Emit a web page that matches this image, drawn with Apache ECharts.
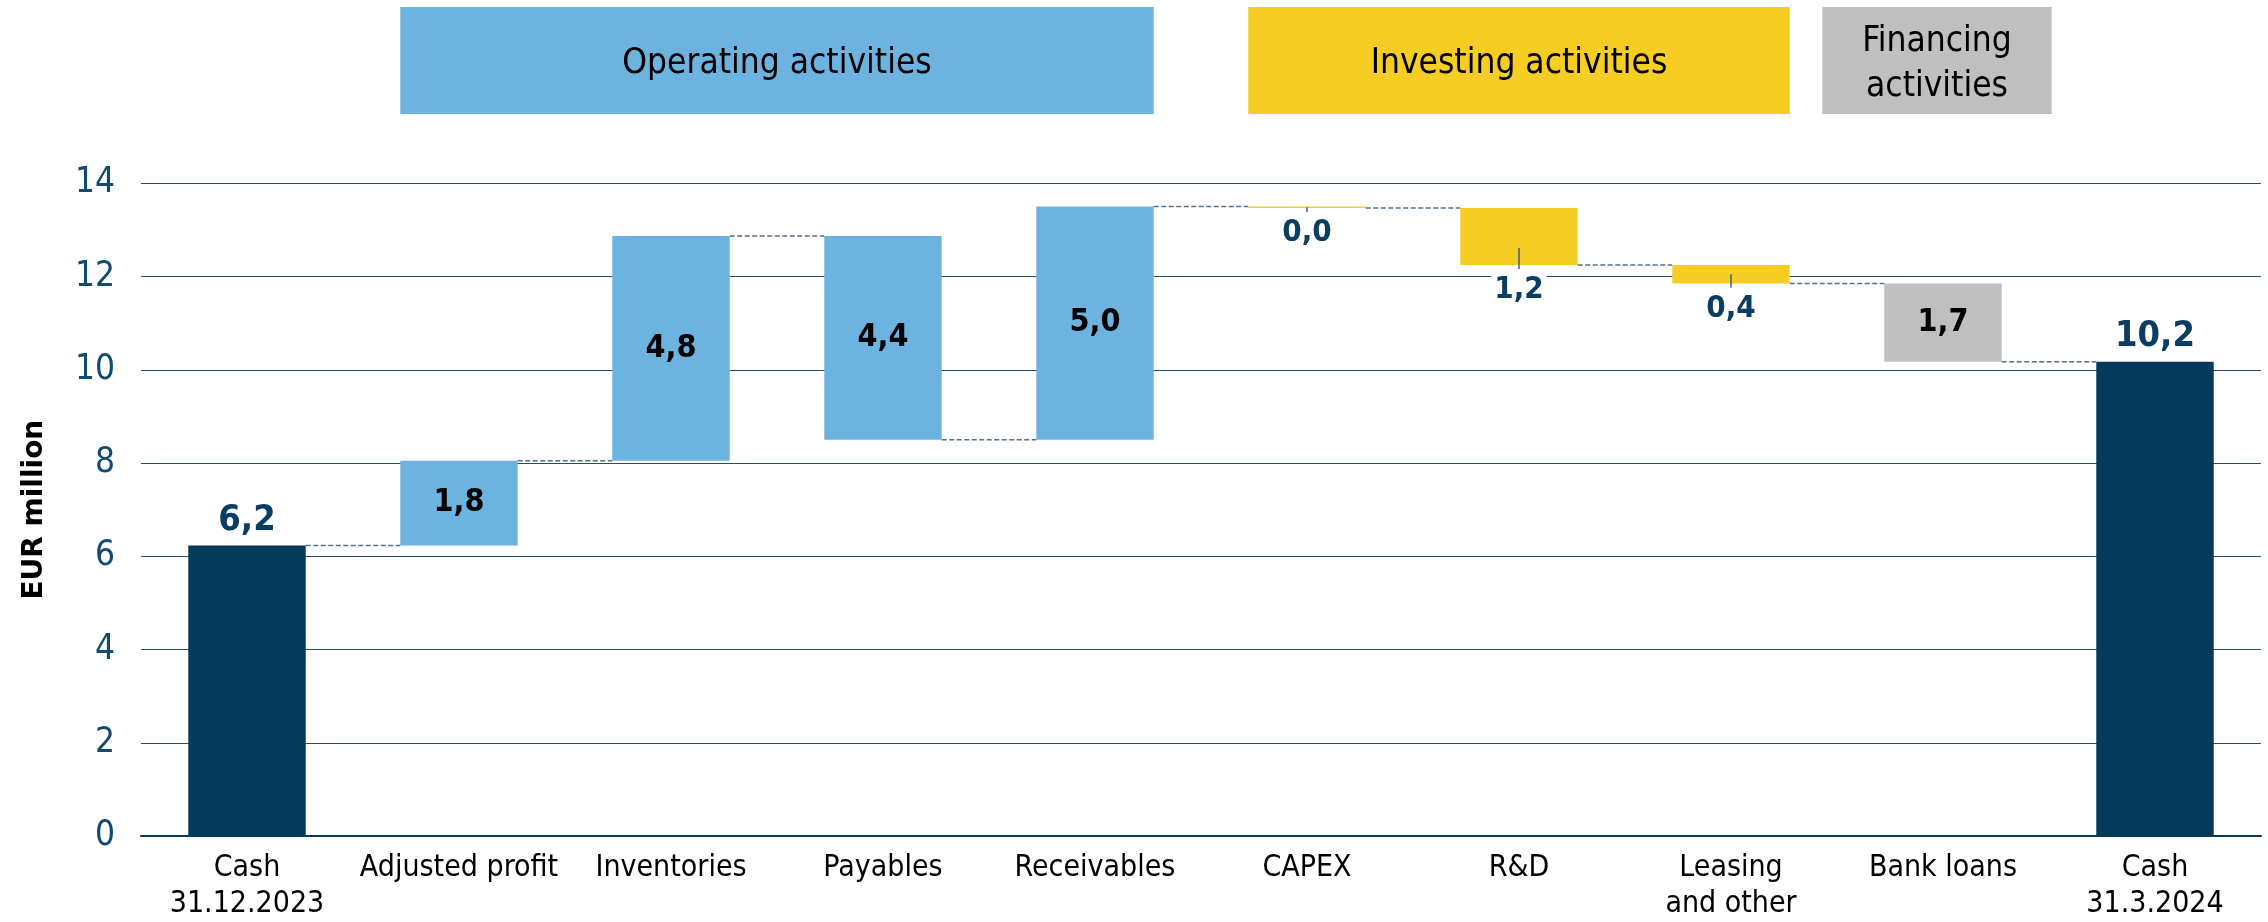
<!DOCTYPE html>
<html>
<head>
<meta charset="utf-8">
<title>Cash flow bridge</title>
<script src="https://cdn.jsdelivr.net/npm/echarts@6/dist/echarts.min.js"></script>
<style>
  html, body { margin: 0; padding: 0; background: #fff; }
  #chart-container { width: 2268px; height: 922px; }
</style>
</head>
<body>
<div id="chart-container"></div>
<script>
var dom = document.getElementById('chart-container');
var myChart = echarts.init(dom, null, { renderer: 'canvas' });

var FONT = "'DejaVu Sans Condensed', 'DejaVu Sans', sans-serif";

// data (EUR million)
var categories = ['Cash\n31.12.2023', 'Adjusted profit', 'Inventories', 'Payables', 'Receivables',
  'CAPEX', 'R&D', 'Leasing\nand other', 'Bank loans', 'Cash\n31.3.2024'];
var changes = [6.23, 1.82, 4.82, -4.37, 5.00, -0.03, -1.22, -0.40, -1.68, 10.17];
var kinds = ['total', 'operating', 'operating', 'operating', 'operating',
  'investing', 'investing', 'investing', 'financing', 'total'];

var groupNames = ['Operating activities', 'Investing activities', 'Financing\nactivities'];
var groupKinds = ['operating', 'investing', 'financing'];
var groupFirst = [1, 5, 8];
var groupLast = [4, 7, 8];

var colors = {
  total: '#043A5C',
  operating: '#6DB3E0',
  investing: '#F5CD23',
  financing: '#BFBFBF'
};

var labelStyles = {
  total: { show: true, position: 'top', distance: 5, color: '#0A3D62', fontSize: 36, fontWeight: 'bold', lineHeight: 40 },
  operating: { show: true, position: 'inside', color: '#000', fontSize: 32, fontWeight: 'bold' },
  investing: { show: true, position: 'bottom', distance: 8, color: '#0A3D62', fontSize: 31, fontWeight: 'bold',
    lineHeight: 34, backgroundColor: '#fff', padding: [0, 3] },
  financing: { show: true, position: 'inside', color: '#000', fontSize: 32, fontWeight: 'bold' }
};

var BAR_RATIO = 0.554;

// waterfall table: invisible base + visible amount
var bases = [];
var heights = [];
var levels = [];
var running = 0;
changes.forEach(function (v, i) {
  if (kinds[i] === 'total') {
    bases.push(0); heights.push(v); running = v;
  } else if (v >= 0) {
    bases.push(running); heights.push(v); running += v;
  } else {
    bases.push(running + v); heights.push(-v); running += v;
  }
  levels.push(running);
});

var connectorData = [];
for (var i = 0; i < categories.length - 1; i++) {
  connectorData.push([i, levels[i]]);
}

var leaderData = [];
kinds.forEach(function (k, i) {
  if (k === 'investing') leaderData.push([i, bases[i], bases[i] + heights[i]]);
});

var amountData = heights.map(function (h, i) {
  return {
    value: h,
    itemStyle: { color: colors[kinds[i]] },
    label: labelStyles[kinds[i]]
  };
});

var option = {
  animation: false,
  textStyle: { fontFamily: FONT },
  grid: { left: 141, right: 7, top: 183.3, bottom: 84.5 },
  xAxis: {
    type: 'category',
    data: categories,
    axisLine: { lineStyle: { color: '#0B3A5E', width: 2 } },
    axisTick: { show: false },
    axisLabel: { color: '#000', fontSize: 30, lineHeight: 36, margin: 14, interval: 0, fontFamily: FONT }
  },
  yAxis: {
    type: 'value',
    min: 0,
    max: 14,
    interval: 2,
    name: 'EUR million',
    nameLocation: 'middle',
    nameGap: 92,
    nameRotate: 90,
    nameTextStyle: { color: '#000', fontSize: 28, fontWeight: 'bold', fontFamily: 'DejaVu Sans' },
    axisLine: { show: false },
    axisTick: { show: false },
    axisLabel: { color: '#134A72', fontSize: 35, margin: 26, fontFamily: FONT },
    splitLine: { lineStyle: { color: '#234E72', width: 1 } }
  },
  series: [
    {
      name: 'base',
      type: 'bar',
      stack: 'wf',
      barWidth: (BAR_RATIO * 100) + '%',
      silent: true,
      itemStyle: { color: 'rgba(0,0,0,0)' },
      data: bases
    },
    {
      name: 'amount',
      type: 'bar',
      stack: 'wf',
      barWidth: (BAR_RATIO * 100) + '%',
      label: {
        fontFamily: FONT,
        formatter: function (p) { return p.value.toFixed(1).replace('.', ','); }
      },
      data: amountData
    },
    {
      name: 'connectors',
      type: 'custom',
      silent: true,
      z: 3,
      renderItem: function (params, api) {
        var idx = api.value(0);
        var y = api.value(1);
        var bw = api.size([1, 0])[0] * BAR_RATIO;
        var p1 = api.coord([idx, y]);
        var p2 = api.coord([idx + 1, y]);
        return {
          type: 'line',
          shape: { x1: p1[0] + bw / 2, y1: p1[1], x2: p2[0] - bw / 2, y2: p1[1] },
          style: { stroke: '#4F7291', lineWidth: 1.5, lineDash: [5, 2.5] }
        };
      },
      data: connectorData
    },
    {
      name: 'leaders',
      type: 'custom',
      silent: true,
      z: 3,
      renderItem: function (params, api) {
        var idx = api.value(0);
        var bottom = api.coord([idx, api.value(1)]);
        var top = api.coord([idx, api.value(2)]);
        var y1 = Math.max((bottom[1] + top[1]) / 2, bottom[1] - 17);
        return {
          type: 'line',
          shape: { x1: bottom[0], y1: y1, x2: bottom[0], y2: bottom[1] + 4 },
          style: { stroke: '#3F5F7A', lineWidth: 1.5 }
        };
      },
      data: leaderData
    }
  ]
};

myChart.setOption(option);

// section headers above the bars
function drawGroups() {
  var x0 = myChart.convertToPixel({ xAxisIndex: 0 }, categories[0]);
  var x1 = myChart.convertToPixel({ xAxisIndex: 0 }, categories[1]);
  var half = (x1 - x0) * BAR_RATIO / 2;
  var graphics = [];
  groupNames.forEach(function (name, g) {
    var left = myChart.convertToPixel({ xAxisIndex: 0 }, categories[groupFirst[g]]) - half;
    var right = myChart.convertToPixel({ xAxisIndex: 0 }, categories[groupLast[g]]) + half;
    if (groupKinds[g] === 'financing') { left -= 62; right += 50; }
    graphics.push({
      type: 'rect',
      shape: { x: left, y: 7, width: right - left, height: 107 },
      style: { fill: colors[groupKinds[g]] },
      silent: true
    });
    graphics.push({
      type: 'text',
      x: (left + right) / 2,
      y: 64,
      style: {
        text: name,
        fill: '#000',
        fontSize: 35,
        fontFamily: FONT,
        lineHeight: 45,
        align: 'center',
        verticalAlign: 'middle'
      },
      silent: true
    });
  });
  myChart.setOption({ graphic: graphics });
}
drawGroups();

window.addEventListener('resize', myChart.resize);
</script>
</body>
</html>
